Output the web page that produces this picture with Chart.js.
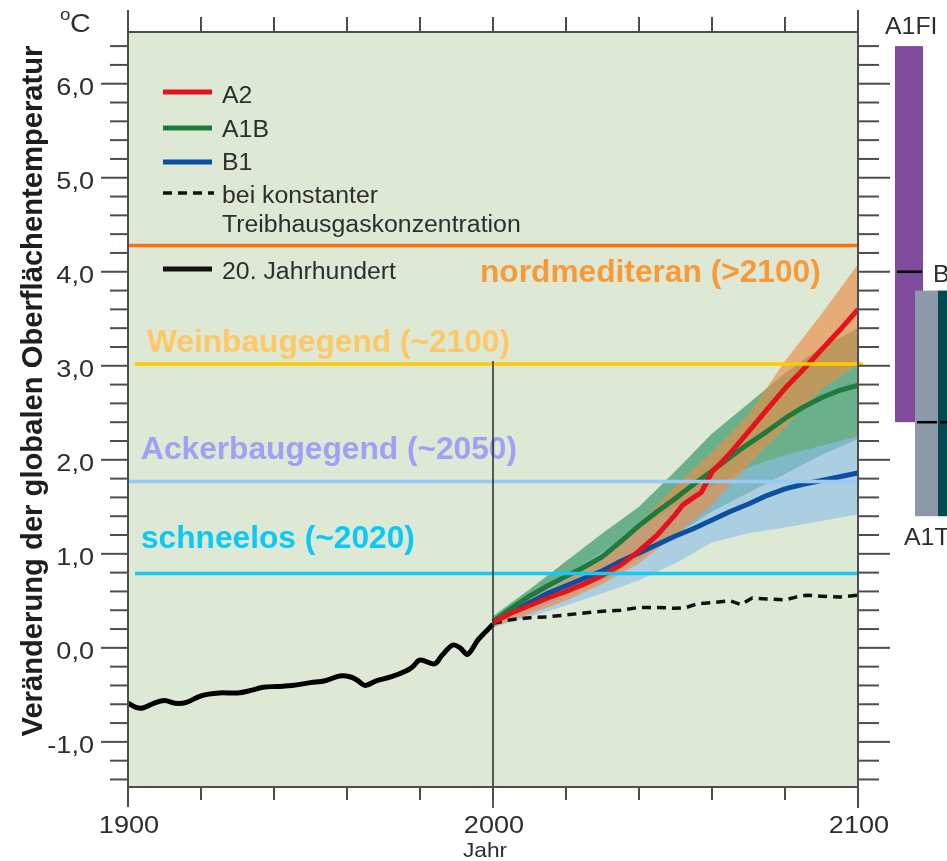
<!DOCTYPE html>
<html>
<head>
<meta charset="utf-8">
<script src="https://cdn.jsdelivr.net/npm/chart.js@4.4.0/dist/chart.umd.min.js"></script>
<style>
  html, body { margin: 0; padding: 0; background: #fff; }
  canvas { display: block; }
</style>
</head>
<body>
<canvas id="chart" width="947" height="861"></canvas>
<script>
// 20. Jahrhundert (beobachtet)
const histYears = [1900, 1902, 1904, 1907, 1910, 1913, 1916, 1920, 1925, 1930, 1934, 1937, 1941, 1945, 1950, 1954, 1958, 1961, 1963, 1965, 1968, 1972, 1976, 1978, 1980, 1984, 1986, 1989, 1991, 1993, 1996, 2000];
const histTemp = [-0.59, -0.63, -0.64, -0.59, -0.56, -0.59, -0.58, -0.51, -0.48, -0.48, -0.45, -0.42, -0.41, -0.40, -0.37, -0.35, -0.30, -0.31, -0.35, -0.40, -0.35, -0.31, -0.25, -0.20, -0.13, -0.17, -0.08, 0.03, 0.00, -0.07, 0.09, 0.25];

// Szenarien (Mittelwerte)
const a2Years = [2000, 2005, 2010, 2015, 2020, 2025, 2030, 2035, 2040, 2045, 2050, 2052, 2055, 2057, 2060, 2065, 2070, 2075, 2080, 2085, 2090, 2095, 2100];
const a2Temp = [0.27, 0.37, 0.45, 0.53, 0.60, 0.68, 0.77, 0.88, 1.03, 1.20, 1.42, 1.52, 1.60, 1.65, 1.87, 2.07, 2.30, 2.53, 2.76, 2.96, 3.17, 3.38, 3.60];
const scenYears = [2000, 2005, 2010, 2015, 2020, 2025, 2030, 2035, 2040, 2045, 2050, 2055, 2060, 2065, 2070, 2075, 2080, 2085, 2090, 2095, 2100];
const a1bTemp = [0.28, 0.42, 0.55, 0.66, 0.76, 0.86, 0.97, 1.13, 1.30, 1.45, 1.59, 1.74, 1.88, 2.03, 2.17, 2.30, 2.44, 2.56, 2.66, 2.74, 2.79];
const b1Temp = [0.27, 0.38, 0.48, 0.58, 0.66, 0.74, 0.82, 0.92, 1.01, 1.10, 1.19, 1.27, 1.36, 1.45, 1.53, 1.62, 1.69, 1.74, 1.78, 1.82, 1.86];
const constYears = [2000, 2005, 2010, 2015, 2020, 2025, 2030, 2035, 2040, 2045, 2050, 2053, 2056, 2060, 2065, 2068, 2071, 2075, 2080, 2083, 2086, 2090, 2095, 2100];
const constTemp = [0.26, 0.30, 0.32, 0.33, 0.35, 0.37, 0.39, 0.40, 0.43, 0.43, 0.42, 0.43, 0.47, 0.48, 0.50, 0.46, 0.53, 0.52, 0.51, 0.54, 0.56, 0.55, 0.54, 0.56];

// Unsicherheitsbereiche
const bandYears = [2000, 2010, 2020, 2030, 2040, 2050, 2060, 2070, 2080, 2090, 2100];
const a2Low = [0.22, 0.36, 0.50, 0.68, 0.90, 1.20, 1.52, 1.95, 2.35, 2.75, 3.02];
const a2High = [0.32, 0.52, 0.72, 0.98, 1.32, 1.72, 2.08, 2.48, 3.05, 3.55, 4.08];
const a1bLow = [0.25, 0.40, 0.55, 0.72, 0.95, 1.20, 1.45, 1.65, 1.85, 2.05, 2.22];
const a1bHigh = [0.34, 0.62, 0.92, 1.22, 1.50, 1.88, 2.28, 2.60, 2.92, 3.20, 3.40];
const b1Low = [0.22, 0.33, 0.45, 0.58, 0.72, 0.90, 1.12, 1.22, 1.28, 1.35, 1.42];
const b1High = [0.30, 0.52, 0.78, 1.02, 1.28, 1.50, 1.72, 1.92, 2.05, 2.15, 2.25];

// Schwellen
const thresholdLabels = ["nordmediteran (>2100)", "Weinbaugegend (~2100)", "Ackerbaugegend (~2050)", "schneelos (~2020)"];
const thresholdValues = [4.28, 3.02, 1.77, 0.79];

// Bandbreiten 2090-2099
const rangeNames = ["A1FI", "A1T", "B2"];
const rangeLow = [2.4, 1.4, 1.4];
const rangeBest = [4.0, 2.4, 2.4];
const rangeHigh = [6.4, 3.8, 3.8];

const legendLabels = ["A2", "A1B", "B1", "bei konstanter", "Treibhausgaskonzentration", "20. Jahrhundert"];
const yTickLabels = ["-1,0", "0,0", "1,0", "2,0", "3,0", "4,0", "5,0", "6,0"];
const xTickLabels = ["1900", "2000", "2100"];

const FONT = '"Liberation Sans", Arial, sans-serif';
const PLOT_BG = "#dde9d5";
const AXIS = "#4d4d4d";
const INK = "#2e2e2e";
const RED = "#e3121d";
const GREEN = "#1f7a3d";
const BLUE = "#0b4fa2";

const THRESHOLD_LINE = ["#ff6f0f", "#ffcb00", "#9ccaf7", "#16c8f2"];
const THRESHOLD_TEXT = ["#f99a38", "#ffc867", "#a0a0f7", "#0cc8f7"];
const RANGE_COLORS = ["#7f4b9a", "#8d98a8", "#004a52"];

function toPoints(years, values) {
    return years.map((year, i) => ({ x: year, y: values[i] }));
}

function drawText(ctx, str, x, y, font, color, align, sx) {
    ctx.save();
    ctx.font = font;
    ctx.fillStyle = color;
    ctx.textAlign = align || "left";
    ctx.textBaseline = "alphabetic";
    ctx.translate(x, y);
    ctx.scale(sx || 1, 1);
    ctx.fillText(str, 0, 0);
    ctx.restore();
}

function line(ctx, x1, y1, x2, y2, color, width, dash) {
    ctx.save();
    ctx.strokeStyle = color;
    ctx.lineWidth = width;
    ctx.setLineDash(dash || []);
    ctx.beginPath();
    ctx.moveTo(x1, y1);
    ctx.lineTo(x2, y2);
    ctx.stroke();
    ctx.restore();
}

const decorations = {
    id: "decorations",
    beforeDatasetsDraw(chart) {
        const { ctx, chartArea: a } = chart;
        ctx.save();
        ctx.fillStyle = PLOT_BG;
        ctx.fillRect(a.left, a.top, a.right - a.left, a.bottom - a.top);
        ctx.restore();
    },
    afterDatasetsDraw(chart) {
        const { ctx, chartArea: a } = chart;
        const x = chart.scales.x;
        const y = chart.scales.y;

        // threshold lines and labels
        const insetL = [1, 7, 1, 7];
        const insetR = [0, 5, 0, 0];
        thresholdValues.forEach((v, i) => {
            const py = y.getPixelForValue(v);
            line(ctx, a.left + insetL[i], py, a.right + insetR[i], py, THRESHOLD_LINE[i], 3.5);
        });
        const labelX = [480, 147, 141, 141];
        const labelDy = [36.5, -12, -22, -26];
        const boldFont = "bold 31.7px " + FONT;
        thresholdLabels.forEach((label, i) => {
            const py = y.getPixelForValue(thresholdValues[i]);
            drawText(ctx, label, labelX[i], py + labelDy[i], boldFont, THRESHOLD_TEXT[i]);
        });

        // Jahr 2000
        const x2000 = x.getPixelForValue(2000);
        line(ctx, x2000, y.getPixelForValue(3.05), x2000, a.bottom + 21, "#333", 1.6);

        // frame
        line(ctx, a.left, 10, a.left, a.bottom + 20, AXIS, 2);
        line(ctx, a.right, 10, a.right, a.bottom + 21, AXIS, 2);
        line(ctx, a.left, a.top, a.right, a.top, AXIS, 2);
        line(ctx, a.left, a.bottom, a.right, a.bottom, AXIS, 2);

        // x ticks (top and bottom)
        for (let year = 1920; year < 2100; year += 20) {
            const px = x.getPixelForValue(year);
            line(ctx, px, a.bottom, px, a.bottom + 13, AXIS, 2);
            line(ctx, px, a.top, px, a.top - 15, AXIS, 2);
        }

        // y ticks (left and right)
        for (let k = -7; k <= 32; k++) {
            const v = k / 5;
            const py = y.getPixelForValue(v);
            const major = k % 5 === 0;
            line(ctx, a.left - (major ? 27 : 18), py, a.left, py, AXIS, 2);
            line(ctx, a.right, py, a.right + (major ? 32 : 21), py, AXIS, 2);
        }

        // y tick labels
        const tickFont = "24px " + FONT;
        yTickLabels.forEach((label, i) => {
            const py = y.getPixelForValue(i - 1);
            drawText(ctx, label, 94, py + 11, tickFont, INK, "right", 1.13);
        });
        drawText(ctx, "o", 60, 20, "17px " + FONT, INK, "left", 1.1);
        drawText(ctx, "C", 70, 32, "26px " + FONT, INK, "left", 1.1);

        // x tick labels
        xTickLabels.forEach((label) => {
            const px = x.getPixelForValue(Number(label));
            drawText(ctx, label, px + 1, 833, tickFont, INK, "center", 1.13);
        });
        drawText(ctx, "Jahr", 485, 857, "21px " + FONT, INK, "center", 1.08);

        // y title
        ctx.save();
        ctx.translate(42, 391);
        ctx.rotate(-Math.PI / 2);
        ctx.font = "bold 29.2px " + FONT;
        ctx.fillStyle = "#1e1e1e";
        ctx.textAlign = "center";
        ctx.fillText("Veränderung der globalen Oberflächentemperatur", 0, 0);
        ctx.restore();

        // legend
        const legFont = "23px " + FONT;
        const lx1 = 163, lx2 = 212, tx = 222;
        line(ctx, lx1, 92, lx2, 92, RED, 5);
        line(ctx, lx1, 128, lx2, 128, GREEN, 5);
        line(ctx, lx1, 162, lx2, 162, BLUE, 5);
        line(ctx, lx1, 193, lx2 + 2, 193, "#111", 3.5, [9, 6]);
        line(ctx, lx1, 269, lx2, 269, "#111", 5);
        drawText(ctx, legendLabels[0], tx, 103, legFont, INK, "left", 1.08);
        drawText(ctx, legendLabels[1], tx, 137, legFont, INK, "left", 1.08);
        drawText(ctx, legendLabels[2], tx, 170, legFont, INK, "left", 1.08);
        drawText(ctx, legendLabels[3], tx, 203, legFont, INK, "left", 1.08);
        drawText(ctx, legendLabels[4], tx, 232, legFont, INK, "left", 1.08);
        drawText(ctx, legendLabels[5], tx, 279, legFont, INK, "left", 1.08);

        // range bars at the right
        const barLeft = [37, 57, 80];
        const barWidth = [28, 23, 30];
        rangeNames.forEach((name, i) => {
            const top = y.getPixelForValue(rangeHigh[i]);
            const bottom = y.getPixelForValue(rangeLow[i]);
            const left = a.right + barLeft[i];
            ctx.save();
            ctx.fillStyle = RANGE_COLORS[i];
            ctx.fillRect(left, top, barWidth[i], bottom - top);
            ctx.restore();
            const best = y.getPixelForValue(rangeBest[i]);
            line(ctx, left + 2, best, left + barWidth[i] - 1, best, "#000", 2.5);
        });
        drawText(ctx, rangeNames[0], 885, 34, legFont, INK, "left", 1.08);
        drawText(ctx, rangeNames[2], 933, 282, legFont, INK, "left", 1.08);
        drawText(ctx, rangeNames[1], 904, 545, legFont, INK, "left", 1.08);
    },
};

function band(data, color, order, fill) {
    return {
        data: data,
        borderWidth: 0,
        borderColor: "rgba(0,0,0,0)",
        backgroundColor: color,
        pointRadius: 0,
        tension: 0,
        fill: fill ? "+1" : false,
        order: order,
    };
}

function series(data, color, width, order, extra) {
    return Object.assign({
        data: data,
        borderColor: color,
        borderWidth: width,
        pointRadius: 0,
        tension: 0,
        fill: false,
        borderJoinStyle: "round",
        order: order,
    }, extra || {});
}

new Chart(document.getElementById("chart"), {
    type: "line",
    data: {
        datasets: [
            band(toPoints(bandYears, a1bHigh), "rgba(30,140,90,0.6)", 10, true),
            band(toPoints(bandYears, a1bLow), "rgba(0,0,0,0)", 10, false),
            band(toPoints(bandYears, b1High), "rgba(140,190,232,0.62)", 9, true),
            band(toPoints(bandYears, b1Low), "rgba(0,0,0,0)", 9, false),
            band(toPoints(bandYears, a2High), "rgba(235,140,70,0.65)", 8, true),
            band(toPoints(bandYears, a2Low), "rgba(0,0,0,0)", 8, false),
            series(toPoints(constYears, constTemp), "#111", 3.5, 5, { borderDash: [9, 6] }),
            series(toPoints(histYears, histTemp), "#000", 5, 4, { tension: 0.35 }),
            series(toPoints(scenYears, b1Temp), BLUE, 5, 3),
            series(toPoints(scenYears, a1bTemp), GREEN, 5, 2),
            series(toPoints(a2Years, a2Temp), RED, 5, 1),
        ],
    },
    options: {
        responsive: false,
        animation: false,
        layout: { padding: { left: 128, right: 89, top: 32, bottom: 74 } },
        plugins: {
            legend: { display: false },
            tooltip: { enabled: false },
        },
        scales: {
            x: { type: "linear", min: 1900, max: 2100, display: false },
            y: { type: "linear", min: -1.48, max: 6.55, display: false },
        },
    },
    plugins: [decorations],
});
</script>
</body>
</html>
